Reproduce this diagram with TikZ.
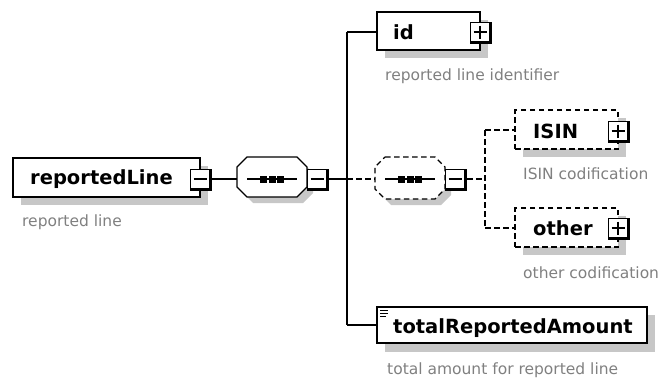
\documentclass[tikz,border=0pt]{standalone}
\usepackage{fontspec}
\setmainfont{DejaVu Sans}
\begin{document}
\begin{tikzpicture}[x=1pt,y=-1pt,
  shadowc/.style={fill=black!22,draw=none},
  elembox/.style={draw=black,line width=1.3pt,fill=white},
  optbox/.style={draw=black,line width=1.2pt,fill=white,dash pattern=on 5.5pt off 3.5pt},
  conn/.style={draw=black,line width=1.3pt},
  optconn/.style={draw=black,line width=1.2pt,dash pattern=on 5.5pt off 3.5pt},
  ename/.style={font=\fontsize{19.5}{21}\selectfont\bfseries,anchor=west,inner sep=0pt},
  anno/.style={font=\fontsize{15.5}{17}\selectfont,text=black!50,anchor=west,inner sep=0pt},
]
\useasboundingbox (0,0) rectangle (663,380);
\tikzset{
  pmbox/.pic={
    \fill[black] (-10.5,-10.5) rectangle (12,12);
    \fill[white] (-9.2,-9.2) rectangle (8.8,8.8);
    \draw[line width=1.4pt] (-6.5,0) -- (6.5,0);
  },
  plusbox/.pic={
    \fill[black] (-10.5,-10.5) rectangle (12,12);
    \fill[white] (-9.2,-9.2) rectangle (8.8,8.8);
    \draw[line width=1.4pt] (-6.5,0) -- (6.5,0) (0,-6.5) -- (0,6.5);
  },
  seqsym/.pic={
    \draw[line width=1.3pt] (-25,0) -- (25,0);
    \fill (-12,-3.5) rectangle (-5,3.5);
    \fill (-3.5,-3.5) rectangle (3.5,3.5);
    \fill (5,-3.5) rectangle (12,3.5);
  }
}
% ---------- reportedLine
\fill[shadowc] (21,166) rectangle (208,205);
\node[elembox,minimum width=187pt,minimum height=39pt,inner sep=0pt] (root) at (106.5,177.5) {};
\node[ename] (rootname) at (30,179) {reportedLine};
\pic at (200,179) {pmbox};
\coordinate (rootout) at (212,179);
\node[anno] (rootanno) at (22,222) {reported line};
% ---------- sequence
\fill[shadowc] (253,163) -- (303,163) -- (313,173) -- (313,193) -- (303,203) -- (253,203) -- (243,193) -- (243,173) -- cycle;
\draw[conn,fill=white] (247,157) -- (297,157) -- (307,167) -- (307,187) -- (297,197) -- (247,197) -- (237,187) -- (237,167) -- cycle;
\coordinate (seqin) at (237,179);
\pic at (272,179) {seqsym};
\pic at (317,179) {pmbox};
\coordinate (seqout) at (329,179);
\draw[conn] (rootout) -- (seqin);
% ---------- trunk
\coordinate (trtop) at (347,32);
\coordinate (trmid) at (347,179);
\coordinate (trbot) at (347,325);
\draw[conn] (seqout) -- (trmid);
\draw[conn] (trtop) -- (trbot);
% ---------- id
\fill[shadowc] (385,20) rectangle (488,58);
\node[elembox,minimum width=103pt,minimum height=38pt,inner sep=0pt] (id) at (428.5,31) {};
\node[ename] (idname) at (393,32) {id};
\pic at (480,32) {plusbox};
\node[anno] (idanno) at (385,76) {reported line identifier};
\draw[conn] (trtop) -- (id.west |- trtop);
% ---------- optional sequence
\fill[shadowc] (391,165) -- (441,165) -- (451,175) -- (451,195) -- (441,205) -- (391,205) -- (381,195) -- (381,175) -- cycle;
\draw[optbox] (385,157) -- (435,157) -- (445,167) -- (445,189) -- (435,199) -- (385,199) -- (375,189) -- (375,167) -- cycle;
\coordinate (oseqin) at (375,179);
\pic at (410,179) {seqsym};
\pic at (455,179) {pmbox};
\coordinate (oseqout) at (467,179);
\draw[optconn] (trmid) -- (oseqin);
\coordinate (brmid) at (485,179);
\coordinate (brtop) at (485,130);
\coordinate (brbot) at (485,228);
\draw[optconn] (oseqout) -- (brmid);
\draw[optconn] (brtop) -- (brbot);
% ---------- ISIN
\fill[shadowc] (523,118) rectangle (626,157);
\node[optbox,minimum width=103pt,minimum height=39pt,inner sep=0pt] (isin) at (566.5,129.5) {};
\node[ename] (isinname) at (533,131) {ISIN};
\pic at (618,131) {plusbox};
\node[anno] (isinanno) at (523,174) {ISIN codification};
\draw[optconn] (brtop) -- (isin.west |- brtop);
% ---------- other
\fill[shadowc] (523,216) rectangle (626,255);
\node[optbox,minimum width=103pt,minimum height=39pt,inner sep=0pt] (other) at (566.5,227.5) {};
\node[ename] (othername) at (533,228) {other};
\pic at (618,228) {plusbox};
\node[anno] (otheranno) at (523,273) {other codification};
\draw[optconn] (brbot) -- (other.west |- brbot);
% ---------- totalReportedAmount
\fill[shadowc] (385,315) rectangle (655,352);
\node[elembox,minimum width=270pt,minimum height=36pt,inner sep=0pt] (tot) at (512,325) {};
\node[ename] (totname) at (393,328) {totalReportedAmount};
\draw[line width=1pt] (380,310) -- (388,310) (380,313) -- (388,313) (380,316) -- (386,316);
\node[anno] (totanno) at (387,370) {total amount for reported line};
\draw[conn] (trbot) -- (tot.west |- trbot);
\end{tikzpicture}
\end{document}
